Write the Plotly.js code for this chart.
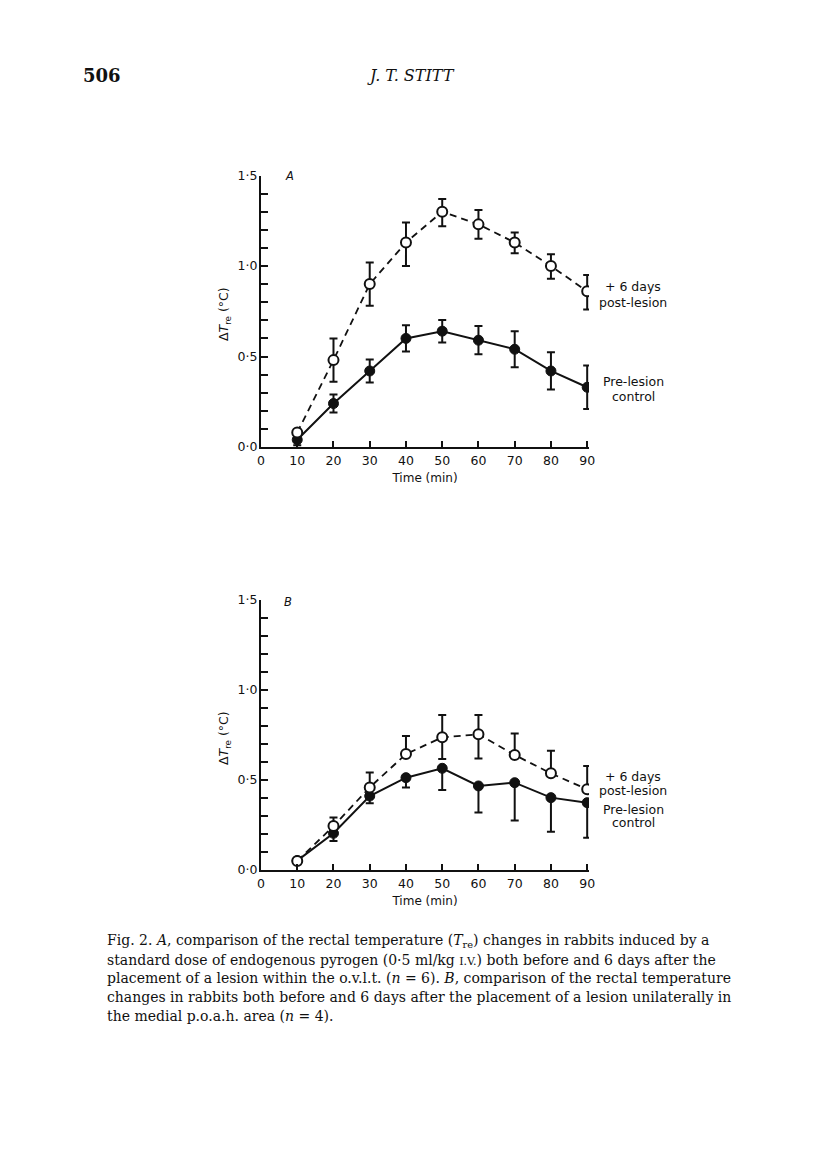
<!DOCTYPE html>
<html>
<head>
<meta charset="utf-8">
<script src="https://cdn.plot.ly/plotly-3.0.1.min.js"></script>
<style>html,body{margin:0;padding:0;background:#fff;}#chart{width:816px;height:1160px;}</style>
</head>
<body>
<div id="chart"></div>
<script>
// ---- data ----
const time = [10, 20, 30, 40, 50, 60, 70, 80, 90];

// Panel A (o.v.l.t. lesion, n = 6)
const A_post = [0.08, 0.48, 0.90, 1.13, 1.30, 1.23, 1.13, 1.00, 0.86];
const A_post_errPlus = [0, 0.12, 0.12, 0.11, 0.07, 0.08, 0.055, 0.065, 0.09];
const A_post_errMinus = [0, 0.12, 0.12, 0.13, 0.08, 0.08, 0.06, 0.07, 0.10];
const A_pre = [0.04, 0.24, 0.42, 0.60, 0.64, 0.59, 0.54, 0.42, 0.33];
const A_pre_err = [0.03, 0.05, 0.063, 0.072, 0.062, 0.078, 0.10, 0.103, 0.12];

// Panel B (medial p.o.a.h. lesion, n = 4)
const B_post = [0.05, 0.244, 0.459, 0.644, 0.737, 0.754, 0.639, 0.537, 0.448];
const B_post_errPlus = [0, 0.048, 0.083, 0.10, 0.124, 0.107, 0.12, 0.126, 0.13];
const B_post_errMinus = [0, 0, 0, 0, 0.12, 0.134, 0, 0, 0];
const B_pre = [0.052, 0.204, 0.411, 0.513, 0.565, 0.467, 0.485, 0.402, 0.374];
const B_pre_errPlus = [0, 0, 0, 0, 0, 0, 0, 0, 0];
const B_pre_errMinus = [0, 0.043, 0.04, 0.054, 0.12, 0.147, 0.21, 0.19, 0.195];

const xTickVals = [0, 10, 20, 30, 40, 50, 60, 70, 80, 90];
const xTickText = ['0', '10', '20', '30', '40', '50', '60', '70', '80', '90'];
const yTickVals = [0, 0.1, 0.2, 0.3, 0.4, 0.5, 0.6, 0.7, 0.8, 0.9, 1.0, 1.1, 1.2, 1.3, 1.4, 1.5];
const yTickText = ['0·0', '', '', '', '', '0·5', '', '', '', '', '1·0', '', '', '', '', '1·5'];

const postLabelLines = ['+ 6 days', 'post-lesion'];
const preLabelLines = ['Pre-lesion', 'control'];

// ---- styles ----
const INK = '#111';
const sansFont = 'DejaVu Sans, Verdana, sans-serif';
const serifFont = 'DejaVu Serif, Liberation Serif, serif';

function errObj(plus, minus) {
  return {type: 'data', symmetric: false, array: plus, arrayminus: minus,
          color: INK, thickness: 2, width: 4};
}
function preTrace(y, plus, minus, xa, ya) {
  return {x: time, y: y, xaxis: xa, yaxis: ya, type: 'scatter', mode: 'lines+markers',
    line: {color: INK, width: 2}, marker: {symbol: 'circle', size: 10, color: INK, line: {color: INK, width: 1}},
    error_y: errObj(plus, minus), showlegend: false, hoverinfo: 'skip'};
}
function postTrace(y, plus, minus, xa, ya) {
  return {x: time, y: y, xaxis: xa, yaxis: ya, type: 'scatter', mode: 'lines+markers',
    line: {color: INK, width: 1.8, dash: '7px,5px'}, marker: {symbol: 'circle', size: 10, color: '#fff', line: {color: INK, width: 2}},
    error_y: errObj(plus, minus), showlegend: false, hoverinfo: 'skip'};
}

const traces = [
  preTrace(A_pre, A_pre_err, A_pre_err, 'x', 'y'),
  postTrace(A_post, A_post_errPlus, A_post_errMinus, 'x', 'y'),
  preTrace(B_pre, B_pre_errPlus, B_pre_errMinus, 'x2', 'y2'),
  postTrace(B_post, B_post_errPlus, B_post_errMinus, 'x2', 'y2')
];

function xAxis(domain, anchor) {
  return {domain: domain, anchor: anchor, range: [0, 90.5], showgrid: false, zeroline: false,
    showline: true, linecolor: INK, linewidth: 2, ticks: 'inside', ticklen: 6, tickwidth: 2, tickcolor: INK,
    tickmode: 'array', tickvals: xTickVals, ticktext: xTickText, ticklabelstandoff: 1,
    tickfont: {family: sansFont, size: 12.5, color: INK},
    title: {text: 'Time (min)', font: {family: sansFont, size: 12, color: INK}, standoff: 7}};
}
function yAxis(domain, anchor) {
  return {domain: domain, anchor: anchor, range: [0, 1.5], showgrid: false, zeroline: false,
    showline: true, linecolor: INK, linewidth: 2, ticks: 'inside', ticklen: 7, tickwidth: 2, tickcolor: INK,
    tickmode: 'array', tickvals: yTickVals, ticktext: yTickText, ticklabelstandoff: -1,
    tickfont: {family: sansFont, size: 12.5, color: INK}};
}

const xDom = [261 / 816, 589 / 816];
const yDomA = [1 - 447 / 1160, 1 - 175.5 / 1160];
const yDomB = [1 - 870 / 1160, 1 - 600 / 1160];

function ann(text, x, y, opts) {
  return Object.assign({text: text, x: x / 816, y: 1 - y / 1160, xref: 'paper', yref: 'paper',
    xanchor: 'center', yanchor: 'middle',
    showarrow: false, font: {family: sansFont, size: 12.5, color: INK}}, opts || {});
}

const capFont = {family: serifFont, size: 14, color: INK};
const captionLines = [
  'Fig. 2. <i>A</i>, comparison of the rectal temperature (<i>T</i><sub>re</sub>) changes in rabbits induced by a',
  'standard dose of endogenous pyrogen (0·5 ml/kg <span style="font-size:11px">I.V.</span>) both before and 6 days after the',
  'placement of a lesion within the o.v.l.t. (<i>n</i> = 6). <i>B</i>, comparison of the rectal temperature',
  'changes in rabbits both before and 6 days after the placement of a lesion unilaterally in',
  'the medial p.o.a.h. area (<i>n</i> = 4).'
];

const annotations = [
  ann('<b>506</b>', 102, 75, {font: {family: serifFont, size: 18, color: INK}}),
  ann('<i>J. T. STITT</i>', 411, 75, {font: {family: serifFont, size: 16, color: INK}}),
  ann('<i>A</i>', 289, 176, {font: {family: sansFont, size: 11.5, color: INK}}),
  ann('<i>B</i>', 288, 602, {font: {family: sansFont, size: 11.5, color: INK}}),
  ann('Δ<i>T</i><sub>re</sub> (°C)', 224, 314, {textangle: -90, font: {family: sansFont, size: 12.5, color: INK}}),
  ann('Δ<i>T</i><sub>re</sub> (°C)', 224, 738, {textangle: -90, font: {family: sansFont, size: 12.5, color: INK}}),
  // panel A labels
  ann(postLabelLines[0], 633, 287),
  ann(postLabelLines[1], 633, 302.5),
  ann(preLabelLines[0], 633, 381),
  ann(preLabelLines[1], 633, 396),
  // panel B labels
  ann(postLabelLines[0], 633, 776.5),
  ann(postLabelLines[1], 633, 790.5),
  ann(preLabelLines[0], 633, 809),
  ann(preLabelLines[1], 633, 822.5)
];
captionLines.forEach((t, i) => {
  annotations.push(ann(t, 105, 941 + i * 18.7, {xanchor: 'left', font: capFont}));
});

const layout = {
  width: 816, height: 1160, margin: {l: 0, r: 0, t: 0, b: 0},
  paper_bgcolor: '#fff', plot_bgcolor: '#fff', showlegend: false,
  xaxis: xAxis(xDom, 'y'), yaxis: yAxis(yDomA, 'x'),
  xaxis2: xAxis(xDom, 'y2'), yaxis2: yAxis(yDomB, 'x2'),
  annotations: annotations
};

Plotly.newPlot('chart', traces, layout, {staticPlot: true, displayModeBar: false});
</script>
</body>
</html>
